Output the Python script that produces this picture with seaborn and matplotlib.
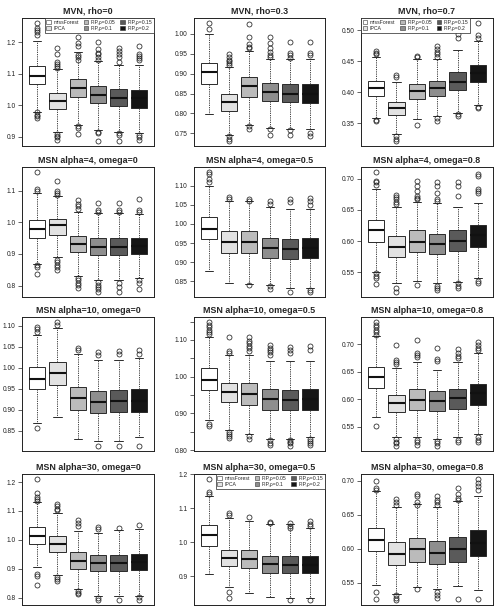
import matplotlib
matplotlib.use("Agg")
import matplotlib.pyplot as plt
from matplotlib.ticker import MultipleLocator, FormatStrFormatter
from matplotlib.patches import Patch
import seaborn as sns

methods = ["missForest", "IPCA", "FIP,ρ=0.05", "FIP,ρ=0.1", "FIP,ρ=0.15", "FIP,ρ=0.2"]
greys = ["#FFFFFF", "#E2E2E2", "#BBBBBB", "#8E8E8E", "#5A5A5A", "#151515"]

titles = ["MVN, rho=0", "MVN, rho=0.3", "MVN, rho=0.7",
          "MSN alpha=4, omega=0", "MSN alpha=4, omega=0.5", "MSN alpha=4, omega=0.8",
          "MSN alpha=10, omega=0", "MSN alpha=10, omega=0.5", "MSN alpha=10, omega=0.8",
          "MSN alpha=30, omega=0", "MSN alpha=30, omega=0.5", "MSN alpha=30, omega=0.8"]

# each row: lower whisker, Q1, median, Q3, upper whisker (one row per method)
mvn0_box = [[0.979, 1.066, 1.092, 1.124, 1.205], [0.913, 0.988, 1.013, 1.037, 1.115],
            [0.938, 1.026, 1.054, 1.084, 1.170], [0.921, 1.006, 1.031, 1.062, 1.141],
            [0.916, 0.997, 1.024, 1.051, 1.128], [0.911, 0.992, 1.023, 1.049, 1.126]]
mvn0_out = [[1.262, 1.246, 1.238, 1.231, 1.224, 0.977, 0.969, 0.965, 0.960],
            [1.183, 1.162, 1.138, 1.131, 1.124, 1.118, 0.909, 0.903, 0.897, 0.890],
            [1.218, 1.198, 1.188, 1.159, 1.152, 1.144, 0.933, 0.928, 0.908],
            [1.201, 1.177, 1.167, 1.162, 1.152, 1.144, 0.916, 0.911, 0.885],
            [1.183, 1.172, 1.162, 1.152, 1.138, 0.911, 0.906, 0.885],
            [1.188, 1.164, 1.157, 1.150, 1.142, 0.906, 0.897, 0.890]]

mvn3_box = [[0.799, 0.874, 0.903, 0.926, 0.999], [0.746, 0.806, 0.829, 0.850, 0.917],
            [0.772, 0.842, 0.868, 0.891, 0.957], [0.764, 0.830, 0.855, 0.877, 0.938],
            [0.761, 0.828, 0.850, 0.873, 0.938], [0.761, 0.827, 0.850, 0.873, 0.938]]
mvn3_out = [[1.028, 1.012],
            [0.950, 0.942, 0.935, 0.931, 0.926, 0.922, 0.744, 0.736, 0.730],
            [1.024, 0.993, 0.975, 0.968, 0.964, 0.768, 0.761],
            [0.993, 0.976, 0.964, 0.954, 0.948, 0.942, 0.762, 0.746],
            [0.980, 0.952, 0.946, 0.940, 0.758, 0.746],
            [0.980, 0.952, 0.946, 0.752, 0.742]]

mvn7_box = [[0.358, 0.394, 0.407, 0.418, 0.456], [0.332, 0.363, 0.374, 0.384, 0.417],
            [0.357, 0.389, 0.402, 0.413, 0.454], [0.362, 0.394, 0.407, 0.418, 0.453],
            [0.367, 0.404, 0.417, 0.432, 0.468], [0.379, 0.416, 0.431, 0.444, 0.483]]
mvn7_out = [[0.466, 0.463, 0.461, 0.356, 0.353],
            [0.428, 0.424, 0.329, 0.325, 0.321],
            [0.459, 0.457, 0.347],
            [0.474, 0.470, 0.465, 0.461, 0.457, 0.358, 0.354],
            [0.494, 0.487, 0.365, 0.362],
            [0.512, 0.492, 0.488, 0.377, 0.374]]

a4w0_box = [[0.868, 0.951, 0.980, 1.008, 1.093], [0.890, 0.961, 0.991, 1.011, 1.082],
            [0.829, 0.905, 0.931, 0.957, 1.032], [0.816, 0.895, 0.923, 0.949, 1.029],
            [0.816, 0.895, 0.923, 0.949, 1.029], [0.824, 0.899, 0.925, 0.951, 1.025]]
a4w0_out = [[1.159, 1.105, 1.097, 0.864, 0.857, 0.836],
            [1.129, 1.097, 1.092, 1.086, 0.881, 0.873, 0.866, 0.858, 0.850],
            [1.069, 1.058, 1.051, 1.043, 0.824, 0.817, 0.808, 0.801, 0.793],
            [1.060, 1.038, 1.032, 0.810, 0.803, 0.795, 0.788, 0.779],
            [1.060, 1.038, 1.032, 0.808, 0.795, 0.779],
            [1.072, 1.038, 1.032, 0.816, 0.808, 0.788]]

a4w5_box = [[0.878, 0.960, 0.988, 1.018, 1.098], [0.845, 0.925, 0.952, 0.981, 1.059],
            [0.843, 0.925, 0.952, 0.982, 1.059], [0.841, 0.912, 0.938, 0.964, 1.043],
            [0.833, 0.909, 0.934, 0.962, 1.040], [0.833, 0.910, 0.936, 0.964, 1.040]]
a4w5_out = [[1.136, 1.130, 1.116, 1.110],
            [1.070, 1.064],
            [1.066, 1.061, 0.840],
            [1.061, 1.053, 0.837, 0.831],
            [1.064, 1.057, 0.822],
            [1.068, 1.059, 1.050, 0.828, 0.822]]

a4w8_box = [[0.551, 0.599, 0.617, 0.633, 0.683], [0.533, 0.575, 0.591, 0.608, 0.654],
            [0.536, 0.583, 0.599, 0.618, 0.663], [0.532, 0.579, 0.595, 0.612, 0.661],
            [0.535, 0.584, 0.600, 0.618, 0.655], [0.540, 0.591, 0.609, 0.626, 0.661]]
a4w8_out = [[0.711, 0.697, 0.695, 0.690, 0.548, 0.544, 0.540, 0.531],
            [0.674, 0.670, 0.667, 0.662, 0.660, 0.524, 0.518],
            [0.697, 0.689, 0.680, 0.673, 0.669, 0.667, 0.530],
            [0.695, 0.689, 0.677, 0.667, 0.664, 0.528, 0.524, 0.522],
            [0.695, 0.689, 0.673, 0.532, 0.528, 0.524],
            [0.708, 0.704, 0.683, 0.680, 0.677, 0.536, 0.533]]

a10w0_box = [[0.869, 0.949, 0.973, 1.001, 1.077], [0.882, 0.960, 0.988, 1.013, 1.094],
             [0.830, 0.900, 0.928, 0.954, 1.032], [0.827, 0.892, 0.918, 0.945, 1.019],
             [0.827, 0.894, 0.920, 0.947, 1.019], [0.835, 0.896, 0.922, 0.950, 1.024]]
a10w0_out = [[1.098, 1.093, 1.086, 0.858],
             [1.109, 1.102],
             [1.048, 1.042],
             [1.038, 1.031, 0.814],
             [1.039, 1.034, 0.814],
             [1.042, 1.034, 0.814]]

a10w5_box = [[0.882, 0.964, 0.992, 1.023, 1.107], [0.855, 0.931, 0.958, 0.982, 1.058],
             [0.843, 0.923, 0.952, 0.982, 1.060], [0.831, 0.910, 0.940, 0.966, 1.044],
             [0.831, 0.910, 0.936, 0.964, 1.043], [0.836, 0.910, 0.938, 0.966, 1.044]]
a10w5_out = [[1.149, 1.142, 1.134, 1.128, 1.121, 1.116, 0.871, 0.866],
             [1.109, 1.069, 1.065, 0.850, 0.844, 0.838, 0.833],
             [1.109, 1.097, 1.091, 1.083, 1.077, 1.069, 0.838, 0.831],
             [1.086, 1.079, 1.072, 1.066, 1.058, 0.827, 0.819, 0.813],
             [1.081, 1.072, 1.065, 0.827, 0.822, 0.818, 0.811],
             [1.083, 1.072, 0.831, 0.825, 0.819, 0.813]]

a10w8_box = [[0.567, 0.621, 0.640, 0.659, 0.714], [0.531, 0.577, 0.593, 0.608, 0.657],
             [0.531, 0.580, 0.599, 0.618, 0.668], [0.528, 0.579, 0.597, 0.614, 0.653],
             [0.531, 0.583, 0.602, 0.619, 0.667], [0.537, 0.590, 0.611, 0.628, 0.684]]
a10w8_out = [[0.740, 0.735, 0.730, 0.726, 0.721, 0.717, 0.552],
             [0.698, 0.671, 0.667, 0.663, 0.528, 0.523, 0.520, 0.515],
             [0.707, 0.683, 0.680, 0.676, 0.526, 0.522, 0.517],
             [0.692, 0.673, 0.669, 0.525, 0.520, 0.515],
             [0.691, 0.683, 0.678, 0.675, 0.526, 0.522],
             [0.703, 0.698, 0.693, 0.689, 0.531, 0.526, 0.523]]

a30w0_box = [[0.907, 0.987, 1.015, 1.046, 1.131], [0.879, 0.957, 0.987, 1.015, 1.093],
             [0.830, 0.898, 0.928, 0.957, 1.031], [0.808, 0.891, 0.921, 0.948, 1.025],
             [0.808, 0.891, 0.921, 0.948, 1.036], [0.808, 0.895, 0.923, 0.951, 1.037]]
a30w0_out = [[1.211, 1.161, 1.149, 1.141, 1.134, 0.883, 0.875, 0.844],
             [1.123, 1.116, 1.108, 1.102, 0.871, 0.865, 0.859],
             [1.069, 1.060, 1.049, 0.824, 0.818, 0.812],
             [1.043, 1.037, 0.800, 0.792],
             [1.040, 0.794],
             [1.051, 0.802, 0.794]]

a30w5_box = [[0.906, 0.990, 1.022, 1.051, 1.136], [0.868, 0.930, 0.952, 0.977, 1.071],
             [0.849, 0.923, 0.950, 0.977, 1.064], [0.837, 0.910, 0.936, 0.959, 1.054],
             [0.834, 0.908, 0.933, 0.959, 1.053], [0.834, 0.908, 0.934, 0.959, 1.042]]
a30w5_out = [[1.187, 1.148, 1.143],
             [1.086, 1.079, 0.853, 0.836],
             [1.073],
             [1.061, 1.058],
             [1.058, 1.049, 1.042, 0.829],
             [1.063, 1.054, 1.047, 0.829]]

a30w8_box = [[0.546, 0.596, 0.613, 0.631, 0.685], [0.533, 0.576, 0.592, 0.610, 0.661],
             [0.544, 0.581, 0.599, 0.615, 0.666], [0.540, 0.577, 0.594, 0.612, 0.661],
             [0.545, 0.581, 0.599, 0.617, 0.670], [0.539, 0.589, 0.608, 0.627, 0.678]]
a30w8_out = [[0.700, 0.690, 0.686, 0.536, 0.525],
             [0.674, 0.669, 0.665, 0.531, 0.527, 0.524],
             [0.681, 0.678, 0.669, 0.665, 0.540],
             [0.678, 0.672, 0.669, 0.665, 0.536, 0.531, 0.527],
             [0.690, 0.680, 0.675, 0.672, 0.525],
             [0.703, 0.697, 0.692, 0.686, 0.525]]

panels = [(mvn0_box, mvn0_out), (mvn3_box, mvn3_out), (mvn7_box, mvn7_out),
          (a4w0_box, a4w0_out), (a4w5_box, a4w5_out), (a4w8_box, a4w8_out),
          (a10w0_box, a10w0_out), (a10w5_box, a10w5_out), (a10w8_box, a10w8_out),
          (a30w0_box, a30w0_out), (a30w5_box, a30w5_out), (a30w8_box, a30w8_out)]

# y tick spacing (labelled, extra unlabelled) and label format per panel
tick_step = [0.1, 0.05, 0.05, 0.1, 0.05, 0.05, 0.05, 0.1, 0.05, 0.1, 0.1, 0.05]
minor_step = [None, None, None, None, None, None, None, 0.05, None, None, None, None]
tick_fmt = ['%.1f', '%.2f', '%.2f', '%.1f', '%.2f', '%.2f', '%.2f', '%.2f', '%.2f', '%.1f', '%.1f', '%.2f']
legend_loc = {0: 'upper right', 2: 'upper left', 10: 'upper right'}

sns.set_theme(style="ticks")
plt.rcParams['font.family'] = ['Liberation Sans', 'DejaVu Sans']

W, H = 496, 607
fig = plt.figure(figsize=(W / 100, H / 100), dpi=100)
col_left = [22, 194, 361]
col_w = [132, 131, 132]
row_top = [18, 167, 317, 474]
row_h = [128, 130, 134, 131]

for i, (box, out) in enumerate(panels):
    r, c = divmod(i, 3)
    ax = fig.add_axes([col_left[c] / W, 1 - (row_top[r] + row_h[r]) / H, col_w[c] / W, row_h[r] / H])
    stats = [dict(whislo=b[0], q1=b[1], med=b[2], q3=b[3], whishi=b[4], fliers=o, label=m)
             for b, o, m in zip(box, out, methods)]
    bp = ax.bxp(stats, positions=range(1, 7), widths=0.8, patch_artist=True,
                boxprops=dict(edgecolor='#2a2a2a', linewidth=0.7),
                medianprops=dict(color='#111111', linewidth=1.5, solid_capstyle='butt'),
                whiskerprops=dict(color='#2a2a2a', linewidth=0.6, linestyle=(0, (1.5, 1.2))),
                capprops=dict(color='#2a2a2a', linewidth=0.7),
                flierprops=dict(marker='o', markerfacecolor='none', markeredgecolor='#222222',
                                markersize=3.6, markeredgewidth=0.55))
    for patch, col in zip(bp['boxes'], greys):
        patch.set_facecolor(col)

    vals = [v for b in box for v in (b[0], b[4])] + [v for o in out for v in o]
    lo, hi = min(vals), max(vals)
    pad = 0.04 * (hi - lo)
    ax.set_ylim(lo - pad, hi + pad)
    ax.set_xlim(0.26, 6.74)
    ax.set_xticks([])
    ax.yaxis.set_major_locator(MultipleLocator(tick_step[i]))
    ax.yaxis.set_major_formatter(FormatStrFormatter(tick_fmt[i]))
    if minor_step[i]:
        ax.yaxis.set_minor_locator(MultipleLocator(minor_step[i]))
        ax.tick_params(axis='y', which='minor', direction='out', length=3, width=0.5, color='#222222')
    ax.tick_params(axis='y', which='major', direction='out', length=3, width=0.5, color='#222222',
                   labelsize=4.8, pad=1.5, labelcolor='#222222')
    for s in ax.spines.values():
        s.set_linewidth(0.7)
        s.set_color('#222222')
    ax.set_title(titles[i], fontsize=6.4, fontweight='bold', pad=3)

    if i in legend_loc:
        handles = [Patch(facecolor=g, edgecolor='#333333', linewidth=0.4) for g in greys]
        leg = ax.legend(handles, methods, ncol=3, loc=legend_loc[i], fontsize=3.7,
                        handlelength=0.9, handleheight=0.9, handletextpad=0.5,
                        columnspacing=0.9, borderpad=0.35, labelspacing=0.25,
                        borderaxespad=0, frameon=True, fancybox=False,
                        edgecolor='#222222', framealpha=1)
        leg.get_frame().set_linewidth(0.5)

fig.savefig("out.png", dpi=100)
